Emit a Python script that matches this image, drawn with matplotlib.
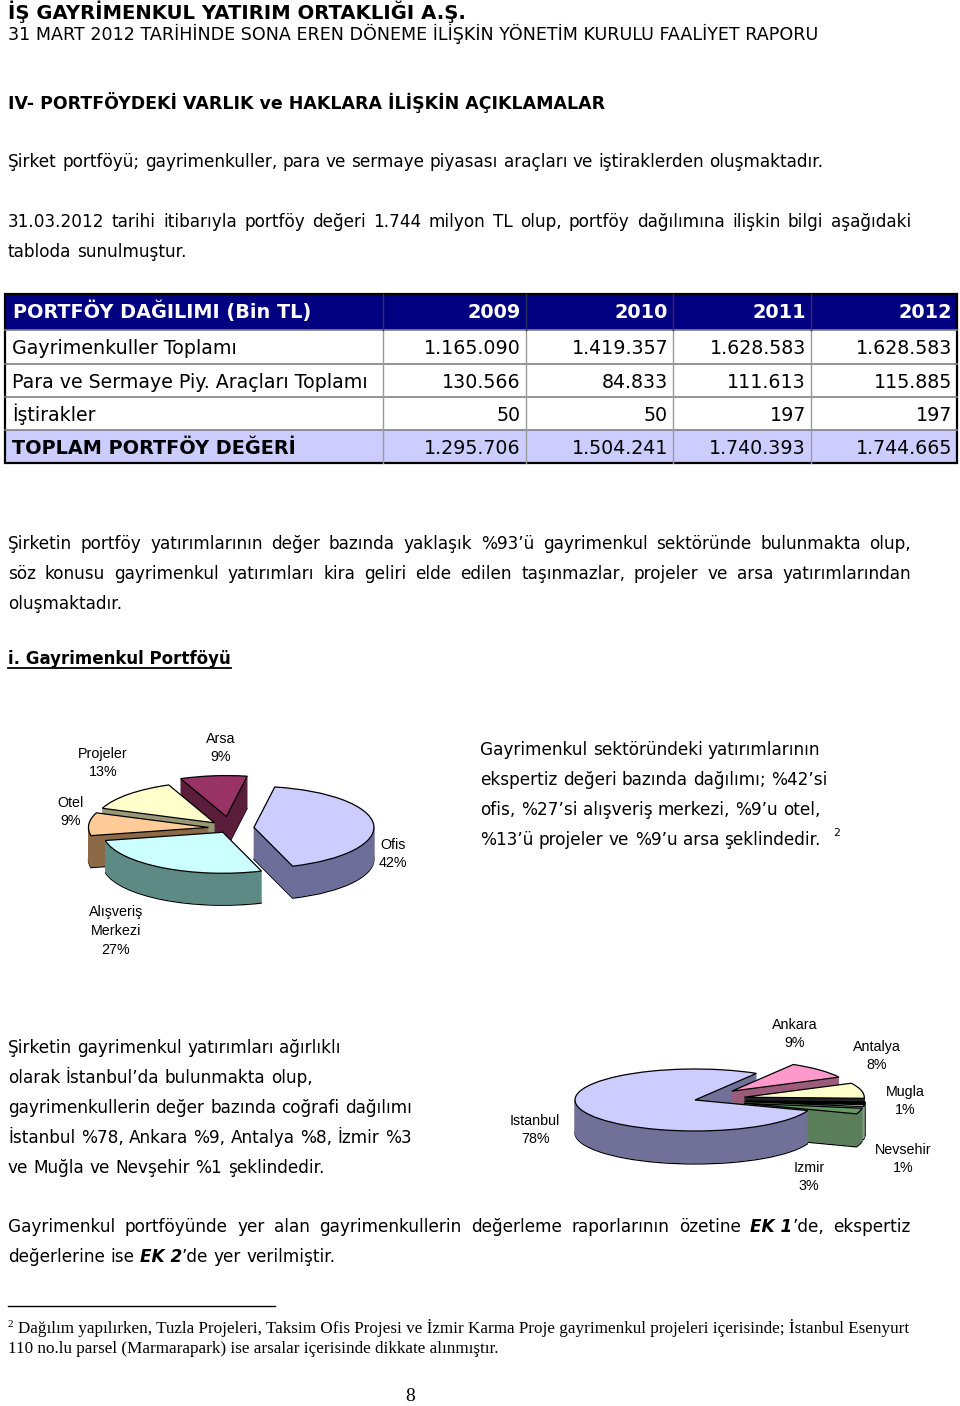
import matplotlib
matplotlib.use('Agg')
import matplotlib.pyplot as plt
from matplotlib.font_manager import FontProperties
from matplotlib.patches import Rectangle

# ---------------- data ----------------
title_company = "İŞ GAYRİMENKUL YATIRIM ORTAKLIĞI A.Ş."
title_report = "31 MART 2012 TARİHİNDE SONA EREN DÖNEME İLİŞKİN YÖNETİM KURULU FAALİYET RAPORU"
section_title = "IV- PORTFÖYDEKİ VARLIK ve HAKLARA İLİŞKİN AÇIKLAMALAR"
subsection_title = "i. Gayrimenkul Portföyü"

table_header = "PORTFÖY DAĞILIMI (Bin TL)"
table_years = ['2009', '2010', '2011', '2012']
row_names = ['Gayrimenkuller Toplamı', 'Para ve Sermaye Piy. Araçları Toplamı',
             'İştirakler', 'TOPLAM PORTFÖY DEĞERİ']
row_gayrimenkul = ['1.165.090', '1.419.357', '1.628.583', '1.628.583']
row_para = ['130.566', '84.833', '111.613', '115.885']
row_istirak = ['50', '50', '197', '197']
row_toplam = ['1.295.706', '1.504.241', '1.740.393', '1.744.665']

portfolio_labels = ['Ofis', 'Alışveriş\nMerkezi', 'Otel', 'Projeler', 'Arsa']
portfolio_pct = [42, 27, 9, 13, 9]
geo_labels = ['Istanbul', 'Ankara', 'Antalya', 'Mugla', 'Nevsehir', 'Izmir']
geo_pct = [78, 9, 8, 1, 1, 3]

# ---------------- page setup ----------------
W, H = 960, 1406
fig = plt.figure(figsize=(W / 100, H / 100), dpi=100)
fig.patch.set_facecolor('white')
ax = fig.add_axes([0, 0, 1, 1])
ax.set_xlim(0, W)
ax.set_ylim(H, 0)
ax.axis('off')
renderer = fig.canvas.get_renderer()

SANS = 'DejaVu Sans'
SERIF = 'Liberation Serif'
ARIAL = 'Liberation Sans'
NBSP = '\u00a0'


def fp(size, weight='normal', style='normal', family=SANS):
    return FontProperties(family=family, size=size, weight=weight, style=style)


def width(s, prop):
    t = ax.text(0, 0, s, fontproperties=prop)
    w = t.get_window_extent(renderer).width
    t.remove()
    return w


def fit(s, target, weight='normal', family=SANS):
    p = fp(10, weight=weight, family=family)
    return 10 * target / width(s, p)


def tokenize(segments):
    words = [[]]
    for txt, prop in segments:
        parts = txt.split(' ')
        for i, p in enumerate(parts):
            if i > 0 and words[-1]:
                words.append([])
            if p:
                words[-1].append((p, prop))
    return [w for w in words if w]


def draw_line(segments, x0, y, x1=None, color='black'):
    words = tokenize(segments)
    widths = [sum(width(p, pr) for p, pr in w) for w in words]
    pr0 = segments[0][1]
    sp = width('a a', pr0) - width('aa', pr0)
    if x1 is not None and len(words) > 1:
        gap = (x1 - x0 - sum(widths)) / (len(words) - 1)
    else:
        gap = sp
    x = x0
    for w, wd in zip(words, widths):
        xx = x
        for p, pr in w:
            ax.text(xx, y, p, fontproperties=pr, ha='left', va='baseline', color=color)
            xx += width(p, pr)
        x += wd + gap
    return x - gap


# font sizes fitted to the page
body_fs = fit("Şirket portföyü; gayrimenkuller, para ve sermaye piyasası araçları ve iştiraklerden oluşmaktadır.", 815)
h1_fs = fit(title_company, 457, 'bold')
h2_fs = fit(title_report, 804)
sec_fs = fit(section_title, 597, 'bold')
sub_fs = fit(subsection_title, 223, 'bold')
tab_fs = fit(row_names[0], 225)
tabb_fs = fit(table_header, 299, 'bold')
foot_fs = fit("Dağılım yapılırken, Tuzla Projeleri, Taksim Ofis Projesi ve İzmir Karma Proje gayrimenkul projeleri içerisinde; İstanbul Esenyurt", 889, family=SERIF)

BODY = fp(body_fs)
BODY_BI = fp(body_fs, 'bold', 'italic')

# ---------------- header ----------------
ax.text(8, 19, title_company, fontproperties=fp(h1_fs, 'bold'), va='baseline')
ax.text(8, 40, title_report, fontproperties=fp(h2_fs), va='baseline')
ax.text(8, 109, section_title, fontproperties=fp(sec_fs, 'bold'), va='baseline')

draw_line([("Şirket portföyü; gayrimenkuller, para ve sermaye piyasası araçları ve iştiraklerden oluşmaktadır.", BODY)], 8, 167)
draw_line([("31.03.2012 tarihi itibarıyla portföy değeri 1.744 milyon TL olup, portföy dağılımına ilişkin bilgi aşağıdaki", BODY)], 8, 227, 911)
draw_line([("tabloda sunulmuştur.", BODY)], 8, 257)

# ---------------- table ----------------
col_x = [5, 383, 526, 673, 811, 957]
row_y = [294, 330, 364, 397, 430, 463]
ax.add_patch(Rectangle((col_x[0], row_y[0]), col_x[-1] - col_x[0], row_y[1] - row_y[0],
                       facecolor='#000080', edgecolor='none'))
ax.add_patch(Rectangle((col_x[0], row_y[4]), col_x[-1] - col_x[0], row_y[5] - row_y[4],
                       facecolor='#CCCCFF', edgecolor='none'))
for yy in row_y[1:-1]:
    ax.plot([col_x[0], col_x[-1]], [yy, yy], color='#808080', lw=1.2)
for xx in col_x[1:-1]:
    ax.plot([xx, xx], [row_y[1], row_y[-1]], color='#9a9a9a', lw=1.0)
    ax.plot([xx, xx], [row_y[0], row_y[1]], color='#303060', lw=1.0)
ax.add_patch(Rectangle((col_x[0], row_y[0]), col_x[-1] - col_x[0], row_y[-1] - row_y[0],
                       facecolor='none', edgecolor='black', lw=1.6))

TAB = fp(tab_fs)
TABB = fp(tabb_fs, 'bold')
base = [r + 24 for r in row_y[:-1]]
ax.text(13, base[0], table_header, fontproperties=TABB, color='white', va='baseline')
for j, yr in enumerate(table_years):
    ax.text(col_x[j + 2] - 5, base[0], yr, fontproperties=TABB, color='white', ha='right', va='baseline')
rows = [row_gayrimenkul, row_para, row_istirak, row_toplam]
for i, (name, vals) in enumerate(zip(row_names, rows)):
    prop = TABB if i == 3 else TAB
    ax.text(12, base[i + 1], name, fontproperties=prop, va='baseline')
    for j, v in enumerate(vals):
        ax.text(col_x[j + 2] - 5, base[i + 1], v, fontproperties=TAB, ha='right', va='baseline')

# ---------------- paragraph ----------------
draw_line([("Şirketin portföy yatırımlarının değer bazında yaklaşık %93’ü gayrimenkul sektöründe bulunmakta olup,", BODY)], 8, 549, 911)
draw_line([("söz konusu gayrimenkul yatırımları kira geliri elde edilen taşınmazlar,  projeler ve arsa yatırımlarından", BODY)], 8, 579, 911)
draw_line([("oluşmaktadır.", BODY)], 8, 609)

SUB = fp(sub_fs, 'bold')
ax.text(8, 664, subsection_title, fontproperties=SUB, va='baseline')
ax.plot([8, 8 + width(subsection_title, SUB)], [668, 668], color='black', lw=1.3)


# ---------------- 3D pies ----------------
def pie3d(values, cx, cy, rx, ry, depth, tops, sides, explode, start, xl, yl, n=36):
    left = cx + xl[0] * rx
    right = cx + xl[1] * rx
    top = cy - yl[1] * ry
    bottom = cy - yl[0] * ry
    a = fig.add_axes([left / W, 1 - bottom / H, (right - left) / W, (bottom - top) / H])
    d = depth / ry
    for k in range(n + 1):
        off = d * (1 - k / n)
        if k == n:
            a.pie(values, colors=tops, explode=explode, startangle=start, counterclock=False,
                  center=(0, 0), wedgeprops=dict(edgecolor='black', linewidth=0.9))
        else:
            wedges, _ = a.pie(values, colors=sides, explode=explode, startangle=start,
                              counterclock=False, center=(0, -off),
                              wedgeprops=dict(linewidth=0.9 if k == 0 else 0.5))
            for w, c in zip(wedges, sides):
                w.set_edgecolor('black' if k == 0 else c)
    a.set_aspect('auto')
    a.set_xlim(xl)
    a.set_ylim(yl)
    a.axis('off')
    return a


pie3d(portfolio_pct, 230, 828, 120, 41, 32,
      ['#CCCCFF', '#CCFFFF', '#FFCC99', '#FFFFCC', '#993366'],
      ['#6E6E9A', '#5E8A86', '#8C6A48', '#999977', '#5A1E3C'],
      [0.2, 0.12, 0.18, 0.18, 0.28], 80, (-1.7, 1.7), (-2.3, 1.8))

pie3d(geo_pct, 695, 1100, 120, 31, 33,
      ['#CCCCFF', '#FF99CC', '#FFFFCC', '#000000', '#CCFFCC', '#669966'],
      ['#707099', '#9A5C7A', '#222222', '#000000', '#80A080', '#5A7F5A'],
      [0, 0.42, 0.42, 0.42, 0.42, 0.42], -20, (-1.5, 1.7), (-2.4, 1.6))

LAB = fp(10.3, family=ARIAL)
pie1_pos = [(393, 854), (116, 931), (71, 812), (103, 763), (221, 748)]
for lab, pct, (x, y) in zip(portfolio_labels, portfolio_pct, pie1_pos):
    ax.text(x, y, f"{lab}\n{pct}%", fontproperties=LAB, ha='center', va='center',
            multialignment='center', linespacing=1.45)
pie2_pos = [(535, 1130), (795, 1034), (877, 1056), (905, 1101), (903, 1159), (809, 1177)]
for lab, pct, (x, y) in zip(geo_labels, geo_pct, pie2_pos):
    ax.text(x, y, f"{lab}\n{pct}%", fontproperties=LAB, ha='center', va='center',
            multialignment='center', linespacing=1.45)

# ---------------- side texts ----------------
right_lines = ["Gayrimenkul sektöründeki yatırımlarının",
               "ekspertiz değeri bazında dağılımı; %42’si",
               "ofis, %27’si alışveriş merkezi, %9’u otel,",
               "%13’ü  projeler ve %9’u arsa şeklindedir."]
for k, ln in enumerate(right_lines):
    xe = draw_line([(ln, BODY)], 480, 755 + 30 * k)
ax.text(xe + 12, 836, "2", fontproperties=fp(body_fs * 0.65), va='baseline')

left_lines = ["Şirketin gayrimenkul yatırımları ağırlıklı",
              "olarak İstanbul’da bulunmakta olup,",
              "gayrimenkullerin değer bazında coğrafi dağılımı",
              "İstanbul %78, Ankara %9, Antalya %8, İzmir %3",
              "ve Muğla ve Nevşehir %1 şeklindedir."]
for k, ln in enumerate(left_lines):
    draw_line([(ln, BODY)], 8, 1053 + 30 * k)

draw_line([("Gayrimenkul portföyünde yer alan gayrimenkullerin değerleme raporlarının özetine ", BODY),
           ("EK" + NBSP + "1", BODY_BI), ("’de, ekspertiz", BODY)], 8, 1232, 911)
draw_line([("değerlerine ise ", BODY), ("EK" + NBSP + "2", BODY_BI), ("’de yer verilmiştir.", BODY)], 8, 1262)

# ---------------- footnote ----------------
ax.plot([8, 275], [1306, 1306], color='black', lw=1.0)
FOOT = fp(foot_fs, family=SERIF)
ax.text(8, 1327, "2", fontproperties=fp(foot_fs * 0.65, family=SERIF), va='baseline')
ax.text(18, 1333, "Dağılım yapılırken, Tuzla Projeleri, Taksim Ofis Projesi ve İzmir Karma Proje gayrimenkul projeleri içerisinde; İstanbul Esenyurt",
        fontproperties=FOOT, va='baseline')
ax.text(8, 1353, "110 no.lu parsel (Marmarapark) ise arsalar içerisinde dikkate alınmıştır.",
        fontproperties=FOOT, va='baseline')
ax.text(410, 1401, "8", fontproperties=fp(14, family=SERIF), ha='center', va='baseline')

fig.savefig('out.png', dpi=100, facecolor='white')
